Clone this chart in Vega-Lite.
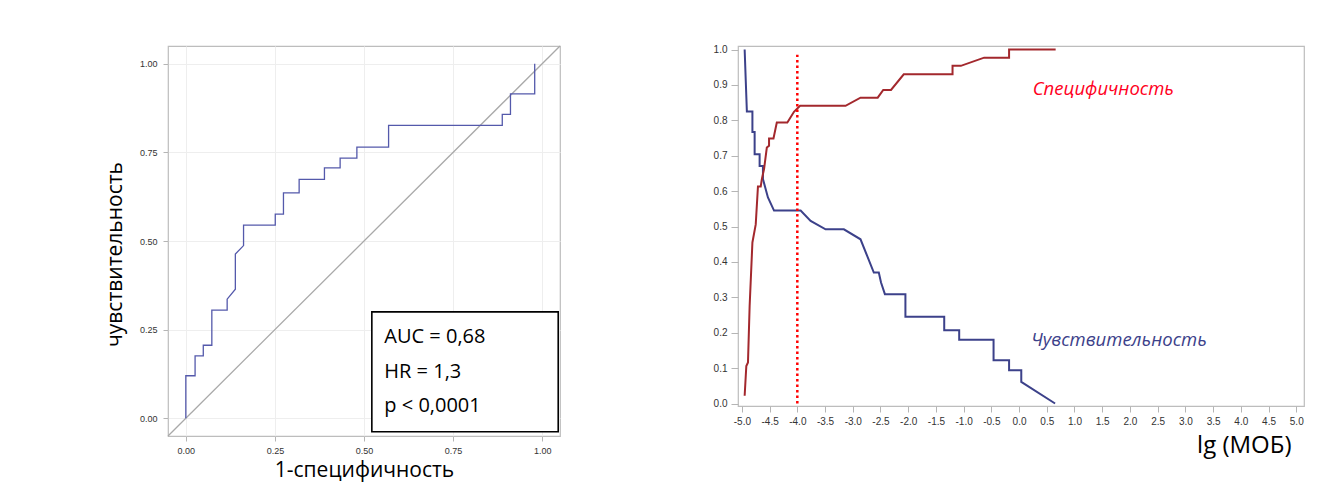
{
  "$schema": "https://vega.github.io/schema/vega-lite/v6.json",
  "background": "white",
  "padding": {"left": 103, "top": 42, "right": 5, "bottom": 5},
  "spacing": 148,
  "config": {
    "view": {"stroke": "#bdbdbd", "strokeWidth": 1.2},
    "axis": {
      "domain": false,
      "tickColor": "#b5b5b5",
      "labelColor": "#333333",
      "labelFont": "Liberation Sans",
      "labelOverlap": false,
      "titleFont": "Open Sans",
      "titleFontWeight": "normal",
      "titleColor": "#000000"
    }
  },
  "hconcat": [
    {
      "width": 392,
      "height": 390,
      "layer": [
        {
          "data": {"values": [{"fpr": -0.05, "tpr": -0.05}, {"fpr": 1.05, "tpr": 1.05}]},
          "mark": {"type": "line", "color": "#a9a9a9", "strokeWidth": 1.3},
          "encoding": {
            "x": {
              "field": "fpr", "type": "quantitative",
              "scale": {"domain": [-0.05, 1.05], "nice": false, "zero": false},
              "axis": {
                "values": [0, 0.25, 0.5, 0.75, 1], "format": ".2f",
                "labelFontSize": 9, "tickSize": 5, "labelPadding": 5,
                "grid": true, "gridColor": "#eeeeee",
                "title": "1-специфичность", "titleFontSize": 21,
                "titleBaseline": "middle", "titleY": 34
              }
            },
            "y": {
              "field": "tpr", "type": "quantitative",
              "scale": {"domain": [-0.05, 1.05], "nice": false, "zero": false},
              "axis": {
                "values": [0, 0.25, 0.5, 0.75, 1], "format": ".2f",
                "labelFontSize": 9, "tickSize": 5, "labelPadding": 6,
                "grid": true, "gridColor": "#eeeeee",
                "title": "чувствительность", "titleFontSize": 21,
                "titleBaseline": "middle", "titleX": -53, "titleY": 208
              }
            }
          }
        },
        {
          "data": {"values": [
            {"fpr": 0, "tpr": 0}, {"fpr": 0, "tpr": 0.12}, {"fpr": 0.026, "tpr": 0.12},
            {"fpr": 0.026, "tpr": 0.176}, {"fpr": 0.049, "tpr": 0.176}, {"fpr": 0.049, "tpr": 0.206},
            {"fpr": 0.073, "tpr": 0.206}, {"fpr": 0.073, "tpr": 0.305}, {"fpr": 0.116, "tpr": 0.305},
            {"fpr": 0.116, "tpr": 0.336}, {"fpr": 0.139, "tpr": 0.364}, {"fpr": 0.139, "tpr": 0.463},
            {"fpr": 0.162, "tpr": 0.487}, {"fpr": 0.162, "tpr": 0.545}, {"fpr": 0.251, "tpr": 0.545},
            {"fpr": 0.251, "tpr": 0.576}, {"fpr": 0.274, "tpr": 0.576}, {"fpr": 0.274, "tpr": 0.636},
            {"fpr": 0.318, "tpr": 0.636}, {"fpr": 0.318, "tpr": 0.674}, {"fpr": 0.389, "tpr": 0.674},
            {"fpr": 0.389, "tpr": 0.706}, {"fpr": 0.433, "tpr": 0.706}, {"fpr": 0.433, "tpr": 0.734},
            {"fpr": 0.48, "tpr": 0.734}, {"fpr": 0.48, "tpr": 0.765}, {"fpr": 0.569, "tpr": 0.765},
            {"fpr": 0.569, "tpr": 0.826}, {"fpr": 0.888, "tpr": 0.826}, {"fpr": 0.888, "tpr": 0.857},
            {"fpr": 0.911, "tpr": 0.857}, {"fpr": 0.911, "tpr": 0.915}, {"fpr": 0.979, "tpr": 0.915},
            {"fpr": 0.979, "tpr": 1.0}
          ]},
          "mark": {"type": "line", "color": "#5459ab", "strokeWidth": 1.3},
          "encoding": {
            "x": {"field": "fpr", "type": "quantitative"},
            "y": {"field": "tpr", "type": "quantitative"},
            "order": {"value": null}
          }
        },
        {
          "data": {"values": [{"stat": "AUC = 0,68\nHR = 1,3\np < 0,0001"}]},
          "layer": [
            {
              "mark": {"type": "rect", "fill": "white", "stroke": "#000000", "strokeWidth": 1.6},
              "encoding": {
                "x": {"datum": 0.522, "type": "quantitative"},
                "x2": {"datum": 1.045},
                "y": {"datum": -0.038, "type": "quantitative"},
                "y2": {"datum": 0.3}
              }
            },
            {
              "mark": {
                "type": "text", "align": "left", "baseline": "middle", "lineBreak": "\n",
                "font": "Open Sans", "fontSize": 20, "lineHeight": 34.5, "color": "#000000"
              },
              "encoding": {
                "x": {"datum": 0.557, "type": "quantitative"},
                "y": {"datum": 0.228, "type": "quantitative"},
                "text": {"field": "stat"}
              }
            }
          ]
        }
      ]
    },
    {
      "width": 566,
      "height": 360,
      "encoding": {
        "x": {
          "field": "lg", "type": "quantitative",
          "scale": {"domain": [-5.07, 5.14], "nice": false, "zero": false},
          "axis": {
            "values": [-5, -4.5, -4, -3.5, -3, -2.5, -2, -1.5, -1, -0.5, 0, 0.5, 1, 1.5, 2, 2.5, 3, 3.5, 4, 4.5, 5],
            "labelExpr": "replace(format(datum.value, '.1f'), '−', '-')",
            "labelFontSize": 10, "tickSize": 6, "labelPadding": 4,
            "grid": false, "labelFlush": false, "labelOverlap": false,
            "title": "lg (МОБ)", "titleFontSize": 24,
            "titleAlign": "right", "titleBaseline": "middle", "titleX": 553, "titleY": 39
          }
        },
        "y": {
          "field": "value", "type": "quantitative",
          "scale": {"domain": [-0.007, 1.01], "nice": false, "zero": false},
          "axis": {
            "values": [0, 0.1, 0.2, 0.3, 0.4, 0.5, 0.6, 0.7, 0.8, 0.9, 1.0],
            "format": ".1f", "labelFontSize": 10, "tickSize": 7, "labelPadding": 4,
            "labelOverlap": false, "grid": false, "title": null
          }
        }
      },
      "layer": [
        {
          "data": {"values": [
            {"curve": "Чувствительность", "lg": -4.95, "value": 1.0},
            {"curve": "Чувствительность", "lg": -4.93, "value": 0.912},
            {"curve": "Чувствительность", "lg": -4.91, "value": 0.825},
            {"curve": "Чувствительность", "lg": -4.81, "value": 0.825},
            {"curve": "Чувствительность", "lg": -4.81, "value": 0.767},
            {"curve": "Чувствительность", "lg": -4.77, "value": 0.767},
            {"curve": "Чувствительность", "lg": -4.77, "value": 0.704},
            {"curve": "Чувствительность", "lg": -4.68, "value": 0.704},
            {"curve": "Чувствительность", "lg": -4.68, "value": 0.671},
            {"curve": "Чувствительность", "lg": -4.62, "value": 0.671},
            {"curve": "Чувствительность", "lg": -4.62, "value": 0.634},
            {"curve": "Чувствительность", "lg": -4.53, "value": 0.582},
            {"curve": "Чувствительность", "lg": -4.42, "value": 0.545},
            {"curve": "Чувствительность", "lg": -3.94, "value": 0.545},
            {"curve": "Чувствительность", "lg": -3.76, "value": 0.516},
            {"curve": "Чувствительность", "lg": -3.49, "value": 0.492},
            {"curve": "Чувствительность", "lg": -3.16, "value": 0.492},
            {"curve": "Чувствительность", "lg": -2.86, "value": 0.464},
            {"curve": "Чувствительность", "lg": -2.74, "value": 0.417},
            {"curve": "Чувствительность", "lg": -2.62, "value": 0.37},
            {"curve": "Чувствительность", "lg": -2.53, "value": 0.37},
            {"curve": "Чувствительность", "lg": -2.49, "value": 0.342},
            {"curve": "Чувствительность", "lg": -2.42, "value": 0.309},
            {"curve": "Чувствительность", "lg": -2.05, "value": 0.309},
            {"curve": "Чувствительность", "lg": -2.05, "value": 0.245},
            {"curve": "Чувствительность", "lg": -1.35, "value": 0.245},
            {"curve": "Чувствительность", "lg": -1.35, "value": 0.207},
            {"curve": "Чувствительность", "lg": -1.08, "value": 0.207},
            {"curve": "Чувствительность", "lg": -1.08, "value": 0.18},
            {"curve": "Чувствительность", "lg": -0.46, "value": 0.18},
            {"curve": "Чувствительность", "lg": -0.46, "value": 0.122},
            {"curve": "Чувствительность", "lg": -0.18, "value": 0.122},
            {"curve": "Чувствительность", "lg": -0.18, "value": 0.094},
            {"curve": "Чувствительность", "lg": 0.04, "value": 0.094},
            {"curve": "Чувствительность", "lg": 0.04, "value": 0.061},
            {"curve": "Чувствительность", "lg": 0.65, "value": 0.0},
            {"curve": "Специфичность", "lg": -4.95, "value": 0.022},
            {"curve": "Специфичность", "lg": -4.92, "value": 0.106},
            {"curve": "Специфичность", "lg": -4.89, "value": 0.116},
            {"curve": "Специфичность", "lg": -4.86, "value": 0.276},
            {"curve": "Специфичность", "lg": -4.81, "value": 0.455},
            {"curve": "Специфичность", "lg": -4.75, "value": 0.506},
            {"curve": "Специфичность", "lg": -4.71, "value": 0.613},
            {"curve": "Специфичность", "lg": -4.66, "value": 0.613},
            {"curve": "Специфичность", "lg": -4.64, "value": 0.634},
            {"curve": "Специфичность", "lg": -4.6, "value": 0.662},
            {"curve": "Специфичность", "lg": -4.55, "value": 0.723},
            {"curve": "Специфичность", "lg": -4.51, "value": 0.728},
            {"curve": "Специфичность", "lg": -4.51, "value": 0.749},
            {"curve": "Специфичность", "lg": -4.43, "value": 0.749},
            {"curve": "Специфичность", "lg": -4.37, "value": 0.794},
            {"curve": "Специфичность", "lg": -4.18, "value": 0.794},
            {"curve": "Специфичность", "lg": -4.06, "value": 0.824},
            {"curve": "Специфичность", "lg": -3.95, "value": 0.841},
            {"curve": "Специфичность", "lg": -3.13, "value": 0.841},
            {"curve": "Специфичность", "lg": -2.86, "value": 0.864},
            {"curve": "Специфичность", "lg": -2.55, "value": 0.864},
            {"curve": "Специфичность", "lg": -2.45, "value": 0.886},
            {"curve": "Специфичность", "lg": -2.31, "value": 0.886},
            {"curve": "Специфичность", "lg": -2.08, "value": 0.93},
            {"curve": "Специфичность", "lg": -1.2, "value": 0.93},
            {"curve": "Специфичность", "lg": -1.2, "value": 0.954},
            {"curve": "Специфичность", "lg": -1.05, "value": 0.954},
            {"curve": "Специфичность", "lg": -0.63, "value": 0.977},
            {"curve": "Специфичность", "lg": -0.18, "value": 0.977},
            {"curve": "Специфичность", "lg": -0.18, "value": 1.0},
            {"curve": "Специфичность", "lg": 0.66, "value": 1.0}
          ]},
          "mark": {"type": "line", "strokeWidth": 2},
          "encoding": {
            "color": {
              "field": "curve", "type": "nominal",
              "scale": {"domain": ["Чувствительность", "Специфичность"], "range": ["#3c418a", "#a3282d"]},
              "legend": null
            },
            "order": {"value": null}
          }
        },
        {
          "data": {"values": [{"lg": -4.0, "value": 0}]},
          "mark": {"type": "rule", "color": "#ff0000", "strokeWidth": 2.5, "strokeDash": [2.5, 3]},
          "encoding": {
            "y2": {"datum": 0.985}
          }
        },
        {
          "data": {"values": [
            {"curve": "Специфичность", "lg": 1.52, "value": 0.888},
            {"curve": "Чувствительность", "lg": 1.8, "value": 0.179}
          ]},
          "mark": {"type": "text", "font": "Open Sans", "fontStyle": "italic", "fontSize": 18.5, "align": "center", "baseline": "middle"},
          "encoding": {
            "text": {"field": "curve"},
            "color": {
              "field": "curve", "type": "nominal",
              "scale": {"domain": ["Чувствительность", "Специфичность"], "range": ["#3c418a", "#ff0022"]},
              "legend": null
            }
          }
        }
      ],
      "resolve": {"scale": {"color": "independent"}}
    }
  ]
}
